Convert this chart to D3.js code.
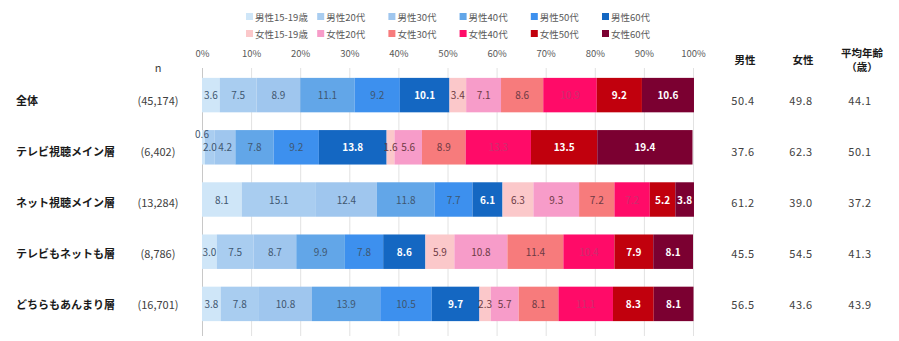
<!DOCTYPE html>
<html>
<head>
<meta charset="utf-8">
<script src="https://cdn.jsdelivr.net/npm/d3@7"></script>
<style>
  html, body { margin: 0; padding: 0; background: #fff; }
  svg text { font-family: "Noto Sans CJK JP", "Noto Sans", sans-serif; }
</style>
</head>
<body>
<svg id="chart" width="899" height="341"></svg>
<script>
// Segment names (male 15-19 .. female 60s)
const segments = ["男性15-19歳", "男性20代", "男性30代", "男性40代", "男性50代", "男性60代",
                  "女性15-19歳", "女性20代", "女性30代", "女性40代", "女性50代", "女性60代"];
const segmentColors = ["#cfe6f8", "#a9cdf0", "#9fc6ee", "#62a6e8", "#3d90ee", "#1467c2",
                       "#fbc8ca", "#f79cc9", "#f77b7c", "#ff0b68", "#c1000d", "#7b0031"];
// Label text colour on each segment
const segmentTextColors = ["#3f5770", "#3f5770", "#3f5770", "#3f5770", "#3f5770", "#ffffff",
                           "#6d3a44", "#6d3a44", "#6d3a44", "#cc2f6f", "#ffffff", "#ffffff"];

const groups = ["全体", "テレビ視聴メイン層", "ネット視聴メイン層", "テレビもネットも層", "どちらもあんまり層"];
const sampleSizes = ["(45,174)", "(6,402)", "(13,284)", "(8,786)", "(16,701)"];

// Composition (%) per group, in segment order
const shareAll   = [3.6, 7.5, 8.9, 11.1, 9.2, 10.1, 3.4, 7.1, 8.6, 10.9, 9.2, 10.6];
const shareTV    = [0.6, 2.0, 4.2, 7.8, 9.2, 13.8, 1.6, 5.6, 8.9, 13.3, 13.5, 19.4];
const shareNet   = [8.1, 15.1, 12.4, 11.8, 7.7, 6.1, 6.3, 9.3, 7.2, 7.2, 5.2, 3.8];
const shareBoth  = [3.0, 7.5, 8.7, 9.9, 7.8, 8.6, 5.9, 10.8, 11.4, 10.4, 7.9, 8.1];
const shareNeither = [3.8, 7.8, 10.8, 13.9, 10.5, 9.7, 2.3, 5.7, 8.1, 11.1, 8.3, 8.1];
const shares = [shareAll, shareTV, shareNet, shareBoth, shareNeither];

// Summary columns
const maleShare   = [50.4, 37.6, 61.2, 45.5, 56.5];
const femaleShare = [49.8, 62.3, 39.0, 54.5, 43.6];
const averageAge  = [44.1, 50.1, 37.2, 41.3, 43.9];

const tickValues = [0, 10, 20, 30, 40, 50, 60, 70, 80, 90, 100];

const svg = d3.select("#chart");

const x = d3.scaleLinear().domain([0, 100]).range([202, 693]);
const y = d3.scaleBand().domain(groups).range([69, 330]).paddingInner(0.34).paddingOuter(0.17);
const rowText = d3.scaleBand().domain(groups).range([75, 330]).paddingInner(0).paddingOuter(0);

// Gridlines
svg.append("g")
  .selectAll("line")
  .data(tickValues)
  .join("line")
  .attr("x1", d => x(d) + 0.5).attr("x2", d => x(d) + 0.5)
  .attr("y1", 68).attr("y2", 336)
  .attr("stroke", d => d === 0 ? "#c8c8c8" : "#e2e2e2")
  .attr("stroke-width", 1);

// Top axis labels
const axis = d3.axisTop(x).tickValues(tickValues).tickFormat(d => d + "%").tickSize(0);
const axisG = svg.append("g").attr("transform", "translate(0,60)").call(axis);
axisG.select(".domain").remove();
axisG.selectAll("text")
  .attr("fill", "#595959")
  .style("font-size", "9.5px");

// Stacked bars
const rows = groups.map((g, i) => {
  let acc = 0;
  return shares[i].map((v, j) => {
    const seg = { group: g, value: v, x0: acc, x1: acc + v, k: j };
    acc += v;
    return seg;
  });
});

const rowG = svg.append("g")
  .selectAll("g")
  .data(rows)
  .join("g");

rowG.selectAll("rect")
  .data(d => d)
  .join("rect")
  .attr("x", d => x(d.x0))
  .attr("width", d => x(d.x1) - x(d.x0))
  .attr("y", d => y(d.group))
  .attr("height", y.bandwidth())
  .attr("fill", d => segmentColors[d.k]);

// Value labels; a segment too thin for its label gets it raised to the bar's top edge
rowG.selectAll("text")
  .data(d => d)
  .join("text")
  .attr("x", d => d.value < 1 ? x(d.x0) : x((d.x0 + d.x1) / 2))
  .attr("y", d => d.value < 1 ? y(d.group) + 8 : y(d.group) + y.bandwidth() / 2 + 4)
  .attr("text-anchor", "middle")
  .attr("fill", d => d.value < 1 ? "#3f5770" : segmentTextColors[d.k])
  .style("font-size", "10px")
  .style("font-weight", d => segmentTextColors[d.k] === "#ffffff" ? "bold" : "normal")
  .text(d => d.value.toFixed(1));

// Group labels and sample sizes
const labelY = g => rowText(g) + rowText.bandwidth() / 2;
svg.append("g")
  .selectAll("text")
  .data(groups)
  .join("text")
  .attr("x", 16)
  .attr("y", g => labelY(g) + 4)
  .attr("fill", "#1a1a1a")
  .style("font-size", "11px")
  .style("font-weight", "bold")
  .text(g => g);

svg.append("text")
  .attr("x", 158).attr("y", 72)
  .attr("text-anchor", "middle")
  .attr("fill", "#404040")
  .style("font-size", "11px")
  .text("n");

svg.append("g")
  .selectAll("text")
  .data(groups)
  .join("text")
  .attr("x", 158)
  .attr("y", g => labelY(g) + 4)
  .attr("text-anchor", "middle")
  .attr("fill", "#404040")
  .style("font-size", "11px")
  .text((g, i) => sampleSizes[i]);

// Summary columns
const summaryCols = [
  { head: ["男性"], values: maleShare, cx: 743 },
  { head: ["女性"], values: femaleShare, cx: 801 },
  { head: ["平均年齢", "（歳）"], values: averageAge, cx: 860 }
];
summaryCols.forEach(col => {
  const h = svg.append("text")
    .attr("text-anchor", "middle")
    .attr("fill", "#1a1a1a")
    .style("font-size", "10.5px")
    .style("font-weight", "bold");
  if (col.head.length === 1) {
    h.attr("x", col.cx + 2).attr("y", 64).text(col.head[0]);
  } else {
    h.append("tspan").attr("x", col.cx + 2).attr("y", 57).text(col.head[0]);
    h.append("tspan").attr("x", col.cx + 2).attr("y", 71).text(col.head[1]);
  }
  svg.append("g")
    .selectAll("text")
    .data(groups)
    .join("text")
    .attr("x", col.cx)
    .attr("y", g => labelY(g) + 4)
    .attr("text-anchor", "middle")
    .attr("fill", "#404040")
    .style("font-size", "11px")
    .style("letter-spacing", "0.5px")
    .text((g, i) => col.values[i].toFixed(1));
});

// Legend: two rows of six
const legendX = d3.scaleLinear().domain([0, 5]).range([246, 602]);
const legend = svg.append("g")
  .selectAll("g")
  .data(segments)
  .join("g")
  .attr("transform", (d, i) => `translate(${legendX(i % 6)},${i < 6 ? 17 : 34})`);
legend.append("rect")
  .attr("x", 0).attr("y", -4)
  .attr("width", 7).attr("height", 7)
  .attr("fill", (d, i) => segmentColors[i]);
legend.append("text")
  .attr("x", 9).attr("y", 3.5)
  .attr("fill", "#595959")
  .style("font-size", "9.5px")
  .text(d => d);
</script>
</body>
</html>
